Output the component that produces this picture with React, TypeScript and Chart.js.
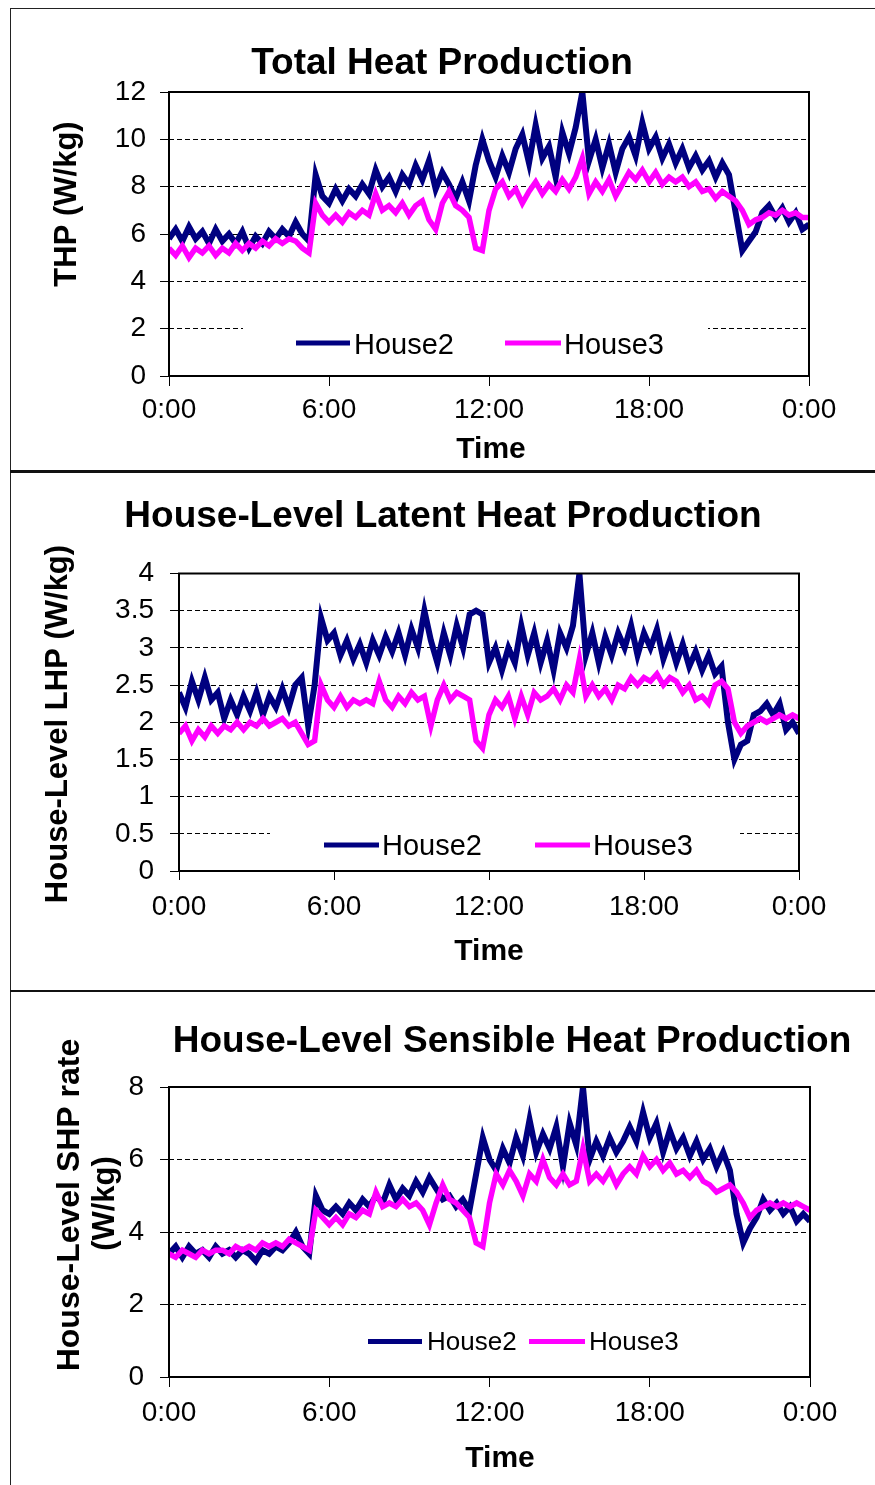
import React, { useEffect, useRef } from "react";
import { Chart, registerables } from "chart.js";

Chart.register(...registerables);

const FONT = "'Liberation Sans', Arial, Helvetica, sans-serif";

// ---------- data ----------
const STEP_HOURS = 0.25; // 15-minute samples, 0:00 .. 24:00
const TIME_H: number[] = Array.from({ length: 97 }, (_, i) => i * STEP_HOURS);
const X_TICK_STEP = 6;

const SERIES_NAMES = ["House2", "House3"];
const SERIES_COLORS = ["#000080", "#FF00FF"];
const SERIES_WIDTHS = [6, 5.5];

const THP_HOUSE2 = [
  5.8, 6.2, 5.7, 6.3, 5.8, 6.1, 5.6, 6.2, 5.7, 6.0, 5.6, 6.1, 5.4, 5.9, 5.6, 6.1,
  5.8, 6.2, 5.9, 6.5, 6.0, 5.7, 8.5, 7.6, 7.3, 7.9, 7.4, 7.9, 7.6, 8.1, 7.7, 8.7,
  8.0, 8.4, 7.8, 8.5, 8.1, 8.9, 8.3, 9.1, 7.9, 8.6, 8.1, 7.5, 8.2, 7.4, 8.9, 10.0,
  9.1, 8.4, 9.3, 8.6, 9.6, 10.2, 9.0, 10.6, 9.2, 9.7, 8.4, 10.3, 9.4, 10.5, 12.0, 9.1,
  10.0, 8.8, 9.8, 8.6, 9.6, 10.1, 9.3, 10.7, 9.6, 10.1, 9.2, 9.8, 9.0, 9.6, 8.8, 9.3,
  8.7, 9.1, 8.4, 9.0, 8.5, 6.9, 5.3, 5.7, 6.1, 6.9, 7.2, 6.7, 7.1, 6.5, 6.9, 6.2,
  6.4,
];
const THP_HOUSE3 = [
  5.4, 5.1, 5.5, 5.0, 5.4, 5.2, 5.5, 5.1, 5.4, 5.2, 5.6, 5.3, 5.6, 5.4, 5.7, 5.5,
  5.8, 5.6, 5.8, 5.7, 5.4, 5.2, 7.3, 6.8, 6.5, 6.8, 6.5, 6.9, 6.7, 7.0, 6.8, 7.7,
  7.0, 7.2, 6.9, 7.3, 6.8, 7.2, 7.4, 6.6, 6.2, 7.3, 7.8, 7.2, 7.0, 6.7, 5.4, 5.3,
  7.0, 7.9, 8.2, 7.6, 7.9, 7.3, 7.8, 8.2, 7.7, 8.1, 7.8, 8.3, 7.9, 8.4, 9.2, 7.7,
  8.2, 7.8, 8.3, 7.6, 8.1, 8.6, 8.3, 8.7, 8.2, 8.6, 8.1, 8.4, 8.2, 8.4, 8.0, 8.2,
  7.8, 7.9, 7.5, 7.8, 7.6, 7.4, 7.0, 6.4, 6.6, 6.7, 6.9, 6.8, 7.0, 6.8, 6.9, 6.7,
  6.7,
];

const LHP_HOUSE2 = [
  2.4, 2.2, 2.55, 2.3, 2.6, 2.3, 2.4, 2.05, 2.3, 2.1, 2.35, 2.15, 2.4, 2.1, 2.35, 2.2,
  2.45, 2.2, 2.5, 2.6, 1.95, 2.5, 3.4, 3.1, 3.2, 2.9, 3.1, 2.85, 3.05, 2.8, 3.1, 2.9,
  3.15, 2.95, 3.2, 2.9, 3.25, 3.0, 3.5, 3.1, 2.8, 3.2, 2.9, 3.3, 3.0, 3.45, 3.5, 3.45,
  2.8, 3.0, 2.7, 3.0, 2.8, 3.3, 2.9, 3.2, 2.8, 3.1, 2.7, 3.2, 3.0, 3.3, 4.0, 2.9,
  3.2, 2.8, 3.15, 2.9, 3.2, 3.0, 3.3, 2.9, 3.2, 3.0, 3.25, 2.85, 3.1, 2.8, 3.05, 2.75,
  2.95, 2.7, 2.9, 2.65, 2.75, 2.0, 1.5, 1.7, 1.75, 2.1, 2.15, 2.25, 2.1, 2.25, 1.9, 2.0,
  1.85,
];
const LHP_HOUSE3 = [
  1.85, 1.95, 1.75, 1.9, 1.8, 1.95, 1.85, 1.95, 1.9, 2.0, 1.9, 2.0, 1.95, 2.05, 1.95, 2.0,
  2.05, 1.95, 2.0, 1.85, 1.7, 1.75, 2.5, 2.3, 2.2, 2.35, 2.2, 2.3, 2.25, 2.3, 2.25, 2.55,
  2.3, 2.2, 2.35, 2.25, 2.4, 2.3, 2.35, 1.95, 2.3, 2.5, 2.3, 2.4, 2.35, 2.3, 1.75, 1.65,
  2.1, 2.3, 2.2, 2.35, 2.05, 2.35, 2.1, 2.4, 2.3, 2.35, 2.45, 2.3, 2.5, 2.4, 2.85, 2.35,
  2.5, 2.35, 2.45, 2.3, 2.5, 2.45, 2.6, 2.5, 2.6, 2.55, 2.65, 2.5, 2.6, 2.55, 2.4, 2.5,
  2.3, 2.35, 2.25, 2.5, 2.55, 2.45, 2.0, 1.85, 1.95, 2.0, 2.05, 2.0, 2.05, 2.1, 2.05, 2.1,
  2.05,
];

const SHP_HOUSE2 = [
  3.4, 3.6, 3.3, 3.6, 3.4, 3.5, 3.3, 3.6, 3.4, 3.5, 3.3, 3.5, 3.4, 3.2, 3.5, 3.4,
  3.6, 3.5, 3.7, 4.0, 3.6, 3.4, 5.0, 4.6, 4.5, 4.7, 4.5, 4.8, 4.6, 4.9, 4.7, 5.0,
  4.8, 5.3, 4.9, 5.2, 5.0, 5.4, 5.1, 5.5, 5.2, 4.9, 5.0, 4.7, 4.9, 4.6, 5.6, 6.6,
  6.0, 5.7, 6.3, 5.9, 6.6, 6.1, 7.1, 6.2, 6.7, 6.3, 6.9, 5.8, 7.0, 6.4, 8.0, 6.0,
  6.5, 6.1, 6.6, 6.2, 6.5, 6.9, 6.5, 7.3, 6.6, 7.0, 6.2, 6.8, 6.3, 6.6, 6.1, 6.5,
  6.0, 6.3, 5.8, 6.2, 5.7, 4.5, 3.7, 4.1, 4.4, 4.9, 4.6, 4.8, 4.5, 4.7, 4.3, 4.5,
  4.3,
];
const SHP_HOUSE3 = [
  3.4, 3.3, 3.5, 3.4, 3.3, 3.5, 3.4, 3.5, 3.5, 3.4, 3.6, 3.5, 3.6, 3.5, 3.7, 3.6,
  3.7, 3.6, 3.8, 3.7, 3.6, 3.5, 4.6, 4.4, 4.2, 4.4, 4.2, 4.5, 4.4, 4.6, 4.5, 5.1,
  4.7, 4.8, 4.7, 4.9, 4.7, 4.8, 4.6, 4.2, 4.8, 5.3, 4.9, 4.8, 4.6, 4.4, 3.7, 3.6,
  4.8, 5.6, 5.3, 5.7, 5.4, 5.0, 5.6, 5.4, 6.0, 5.5, 5.3, 5.6, 5.3, 5.4, 6.3, 5.4,
  5.6, 5.4, 5.7, 5.3, 5.6, 5.8, 5.6, 6.1, 5.8, 6.0, 5.7, 5.9, 5.6, 5.7, 5.5, 5.7,
  5.4, 5.3, 5.1, 5.2, 5.3, 5.1, 4.8, 4.4, 4.6, 4.7, 4.8, 4.7, 4.8, 4.7, 4.8, 4.7,
  4.6,
];

const PANEL_TITLES = [
  "Total Heat Production",
  "House-Level Latent Heat Production",
  "House-Level Sensible Heat Production",
];
const Y_TITLES = [["THP (W/kg)"], ["House-Level LHP (W/kg)"], ["House-Level SHP rate", "(W/kg)"]];
const X_TITLE = "Time";
const Y_RANGES = [
  { min: 0, max: 12, step: 2 },
  { min: 0, max: 4, step: 0.5 },
  { min: 0, max: 8, step: 2 },
];

// ---------- layout (canvas pixel coordinates) ----------
type Layout = {
  top: number;
  height: number;
  plot: { left: number; right: number; top: number; bottom: number };
  yTickPad: number;
  xTickLen: number;
  xTickPad: number;
  title: { x: number; base: number; size: number };
  xTitle: { x: number; base: number; size: number };
  yTitle: { base: number; y: number; size: number }[];
  legend: {
    box: [number, number, number, number];
    y: number;
    base: number;
    size: number;
    items: { x0: number; x1: number; tx: number }[];
  };
};

const LAYOUTS: Layout[] = [
  {
    top: 0,
    height: 470,
    plot: { left: 169, right: 809, top: 92, bottom: 376 },
    yTickPad: 14,
    xTickLen: 10,
    xTickPad: 7,
    title: { x: 442, base: 74, size: 37 },
    xTitle: { x: 491, base: 458, size: 30 },
    yTitle: [{ base: 76, y: 204, size: 31 }],
    legend: {
      box: [243, 318, 708, 368],
      y: 343,
      base: 353.5,
      size: 29,
      items: [
        { x0: 296, x1: 350, tx: 354 },
        { x0: 505, x1: 561, tx: 564 },
      ],
    },
  },
  {
    top: 470,
    height: 520,
    plot: { left: 179, right: 799, top: 103.5, bottom: 401 },
    yTickPad: 16,
    xTickLen: 9,
    xTickPad: 10,
    title: { x: 443, base: 56.5, size: 37 },
    xTitle: { x: 489, base: 490, size: 30 },
    yTitle: [{ base: 67, y: 254, size: 31 }],
    legend: {
      box: [270, 350, 740, 398],
      y: 375,
      base: 385,
      size: 29,
      items: [
        { x0: 324, x1: 379, tx: 382 },
        { x0: 535, x1: 590, tx: 593 },
      ],
    },
  },
  {
    top: 990,
    height: 495,
    plot: { left: 169, right: 810, top: 97, bottom: 387 },
    yTickPad: 16,
    xTickLen: 10,
    xTickPad: 9,
    title: { x: 512, base: 61.5, size: 37 },
    xTitle: { x: 500, base: 476.5, size: 30 },
    yTitle: [
      { base: 79, y: 215, size: 32 },
      { base: 114, y: 213.5, size: 31 },
    ],
    legend: {
      box: [360, 330, 690, 372],
      y: 351.5,
      base: 360,
      size: 26,
      items: [
        { x0: 368, x1: 422, tx: 427 },
        { x0: 529, x1: 585, tx: 589 },
      ],
    },
  },
];

const PAGE_W = 875;
const PAGE_H = 1485;
const Y_AXIS_W = 100;
const X_AXIS_H = 44;

function hourLabel(v: number) {
  return `${Math.round(v) % 24}:00`;
}

function makeDecor(L: Layout, title: string, yTitle: string[]) {
  return {
    id: "panelDecor",
    afterDatasetsDraw(chart: any) {
      const ctx: CanvasRenderingContext2D = chart.ctx;
      const a = chart.chartArea;
      ctx.save();
      // legend inside the plot
      const lg = L.legend;
      ctx.fillStyle = "#ffffff";
      ctx.fillRect(lg.box[0], lg.box[1], lg.box[2] - lg.box[0], lg.box[3] - lg.box[1]);
      chart.data.datasets.forEach((ds: any, i: number) => {
        const it = lg.items[i];
        ctx.strokeStyle = ds.borderColor;
        ctx.lineWidth = 5;
        ctx.lineCap = "butt";
        ctx.setLineDash([]);
        ctx.beginPath();
        ctx.moveTo(it.x0, lg.y);
        ctx.lineTo(it.x1, lg.y);
        ctx.stroke();
        ctx.fillStyle = "#000";
        ctx.font = `${lg.size}px ${FONT}`;
        ctx.textAlign = "left";
        ctx.textBaseline = "alphabetic";
        ctx.fillText(ds.label, it.tx, lg.base);
      });
      // plot frame
      ctx.strokeStyle = "#000";
      ctx.lineWidth = 2;
      ctx.setLineDash([]);
      ctx.strokeRect(a.left, a.top, a.right - a.left, a.bottom - a.top);
      ctx.restore();
    },
    afterDraw(chart: any) {
      const ctx: CanvasRenderingContext2D = chart.ctx;
      ctx.save();
      ctx.fillStyle = "#000";
      ctx.textBaseline = "alphabetic";
      ctx.textAlign = "center";
      ctx.font = `bold ${L.title.size}px ${FONT}`;
      ctx.fillText(title, L.title.x, L.title.base);
      ctx.font = `bold ${L.xTitle.size}px ${FONT}`;
      ctx.fillText(X_TITLE, L.xTitle.x, L.xTitle.base);
      yTitle.forEach((t, i) => {
        const p = L.yTitle[i];
        ctx.save();
        ctx.translate(p.base, p.y);
        ctx.rotate(-Math.PI / 2);
        ctx.font = `bold ${p.size}px ${FONT}`;
        ctx.textAlign = "center";
        ctx.fillText(t, 0, 0);
        ctx.restore();
      });
      ctx.restore();
    },
  };
}

function Panel({
  idx,
  series,
}: {
  idx: number;
  series: number[][];
}) {
  const ref = useRef<HTMLCanvasElement | null>(null);
  const L = LAYOUTS[idx];
  const R = Y_RANGES[idx];

  useEffect(() => {
    if (!ref.current) return;
    const datasets = series.map((vals, s) => ({
      label: SERIES_NAMES[s],
      data: TIME_H.map((t, i) => ({ x: t, y: vals[i] })),
      borderColor: SERIES_COLORS[s],
      backgroundColor: SERIES_COLORS[s],
      borderWidth: SERIES_WIDTHS[s],
      borderJoinStyle: "miter",
      pointRadius: 0,
      tension: 0,
      fill: false,
      order: s === 0 ? 1 : 0,
    }));
    const chart = new Chart(ref.current, {
      type: "line",
      data: { datasets },
      options: {
        animation: false,
        responsive: false,
        events: [],
        layout: {
          padding: {
            left: L.plot.left - Y_AXIS_W,
            right: PAGE_W - L.plot.right,
            top: L.plot.top,
            bottom: L.height - L.plot.bottom - X_AXIS_H,
          },
        },
        plugins: {
          legend: { display: false },
          title: { display: false },
          tooltip: { enabled: false },
        },
        scales: {
          x: {
            type: "linear",
            min: 0,
            max: 24,
            afterFit: (s: any) => {
              s.height = X_AXIS_H;
            },
            ticks: {
              stepSize: X_TICK_STEP,
              autoSkip: false,
              maxRotation: 0,
              minRotation: 0,
              padding: L.xTickPad,
              color: "#000",
              font: { family: FONT, size: 28 },
              callback: (v: any) => hourLabel(Number(v)),
            },
            grid: {
              drawOnChartArea: false,
              drawTicks: true,
              tickLength: L.xTickLen,
              tickColor: "#000",
              tickWidth: 1,
            },
            border: { display: false },
          },
          y: {
            type: "linear",
            min: R.min,
            max: R.max,
            afterFit: (s: any) => {
              s.width = Y_AXIS_W;
            },
            ticks: {
              stepSize: R.step,
              padding: L.yTickPad,
              color: "#000",
              font: { family: FONT, size: 28 },
              callback: (v: any) => `${Math.round(Number(v) * 100) / 100}`,
            },
            grid: {
              color: "#000",
              lineWidth: 1,
              drawTicks: true,
              tickLength: 9,
              tickColor: "#000",
              tickWidth: 1,
              tickBorderDash: [],
            },
            border: { display: false, dash: [5, 3] },
          },
        },
      },
      plugins: [makeDecor(L, PANEL_TITLES[idx], Y_TITLES[idx])],
    } as any);
    return () => chart.destroy();
  }, []);

  return (
    <canvas
      ref={ref}
      width={PAGE_W}
      height={L.height}
      style={{ position: "absolute", left: 0, top: L.top, width: PAGE_W, height: L.height, display: "block" }}
    />
  );
}

export default function App() {
  return (
    <div
      style={{
        position: "absolute",
        left: 0,
        top: 0,
        width: PAGE_W,
        height: PAGE_H,
        background: "#fff",
        overflow: "hidden",
      }}
    >
      <Panel idx={0} series={[THP_HOUSE2, THP_HOUSE3]} />
      <Panel idx={1} series={[LHP_HOUSE2, LHP_HOUSE3]} />
      <Panel idx={2} series={[SHP_HOUSE2, SHP_HOUSE3]} />
      <div
        style={{
          position: "absolute",
          left: 10,
          top: 8,
          width: PAGE_W,
          height: PAGE_H,
          borderLeft: "1px solid #222",
          borderTop: "1px solid #222",
          pointerEvents: "none",
        }}
      />
      <div style={{ position: "absolute", left: 10, top: 470, width: PAGE_W, height: 3, background: "#111" }} />
      <div style={{ position: "absolute", left: 10, top: 990, width: PAGE_W, height: 2, background: "#111" }} />
    </div>
  );
}
